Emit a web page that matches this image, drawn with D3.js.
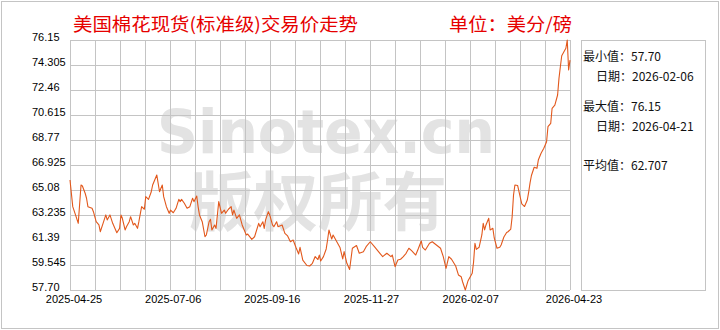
<!DOCTYPE html>
<html>
<head>
<meta charset="utf-8">
<script src="https://cdn.jsdelivr.net/npm/d3@7/dist/d3.min.js"></script>
<style>
  body { margin: 0; background: #fff; }
  svg { display: block; }
</style>
</head>
<body>
<svg id="mainsvg" width="720" height="330"></svg>
<script>
// cotton spot price series (US cents / lb)
var dates = [
  "2025-04-25","2025-04-27","2025-04-29","2025-05-01","2025-05-03","2025-05-04","2025-05-06","2025-05-07","2025-05-08","2025-05-11",
  "2025-05-12","2025-05-14","2025-05-16","2025-05-17","2025-05-19","2025-05-21","2025-05-22","2025-05-24","2025-05-26","2025-05-29",
  "2025-05-31","2025-06-01","2025-06-02","2025-06-04","2025-06-05","2025-06-07","2025-06-08","2025-06-10","2025-06-11","2025-06-13",
  "2025-06-14","2025-06-16","2025-06-18","2025-06-19","2025-06-21","2025-06-23","2025-06-24","2025-06-27","2025-06-29","2025-06-30",
  "2025-07-01","2025-07-02","2025-07-04","2025-07-06","2025-07-07","2025-07-09","2025-07-11","2025-07-13","2025-07-14","2025-07-15",
  "2025-07-17","2025-07-19","2025-07-21","2025-07-23","2025-07-24","2025-07-26","2025-07-27","2025-07-28","2025-07-30","2025-08-01",
  "2025-08-02","2025-08-04","2025-08-05","2025-08-06","2025-08-08","2025-08-09","2025-08-11","2025-08-13","2025-08-15","2025-08-16",
  "2025-08-18","2025-08-20","2025-08-21","2025-08-22","2025-08-24","2025-08-26","2025-08-28","2025-08-31","2025-09-01","2025-09-04",
  "2025-09-06","2025-09-09","2025-09-10","2025-09-12","2025-09-13","2025-09-14","2025-09-16","2025-09-17","2025-09-19","2025-09-20",
  "2025-09-22","2025-09-23","2025-09-26","2025-09-28","2025-09-30","2025-10-02","2025-10-04","2025-10-06","2025-10-08","2025-10-09",
  "2025-10-11","2025-10-14","2025-10-16","2025-10-18","2025-10-20","2025-10-22","2025-10-23","2025-10-24","2025-10-26","2025-10-28",
  "2025-10-29","2025-10-30","2025-11-01","2025-11-02","2025-11-04","2025-11-07","2025-11-09","2025-11-10","2025-11-12","2025-11-14",
  "2025-11-16","2025-11-19","2025-11-21","2025-11-24","2025-11-26","2025-11-29","2025-12-02","2025-12-06","2025-12-08","2025-12-11",
  "2025-12-14","2025-12-15","2025-12-17","2025-12-19","2025-12-21","2025-12-23","2025-12-25","2025-12-27","2025-12-29","2026-01-01",
  "2026-01-03","2026-01-05","2026-01-06","2026-01-08","2026-01-11","2026-01-13","2026-01-16","2026-01-19","2026-01-21","2026-01-23",
  "2026-01-25","2026-01-27","2026-01-30","2026-02-01","2026-02-03","2026-02-04","2026-02-06","2026-02-08","2026-02-11","2026-02-12",
  "2026-02-13","2026-02-14","2026-02-16","2026-02-18","2026-02-19","2026-02-20","2026-02-21","2026-02-23","2026-02-24","2026-02-26",
  "2026-02-27","2026-03-01","2026-03-03","2026-03-04","2026-03-06","2026-03-08","2026-03-09","2026-03-11","2026-03-12","2026-03-13",
  "2026-03-14","2026-03-16","2026-03-18","2026-03-19","2026-03-21","2026-03-23","2026-03-24","2026-03-25","2026-03-26","2026-03-28",
  "2026-03-30","2026-03-31","2026-04-02","2026-04-04","2026-04-06","2026-04-07","2026-04-09","2026-04-10","2026-04-12","2026-04-14",
  "2026-04-15","2026-04-16","2026-04-17","2026-04-20","2026-04-21","2026-04-22","2026-04-23"
];
var prices = [
  65.82,63.85,63.24,62.62,65.45,65.38,64.84,64.47,63.85,63.73,
  63.48,62.74,62.50,62.00,62.62,63.24,62.87,63.24,62.62,61.93,
  62.25,63.24,62.99,62.13,62.37,62.74,63.11,62.50,62.62,62.25,
  62.74,63.85,63.66,64.59,64.39,64.95,65.45,66.19,64.95,65.21,
  65.45,64.59,63.85,63.36,63.60,63.40,63.73,64.39,64.22,64.39,
  64.10,63.73,63.85,64.47,64.22,64.64,63.85,63.24,62.74,61.63,
  61.76,62.74,62.92,62.13,62.50,62.25,64.22,63.36,63.60,63.36,
  63.66,63.85,63.24,63.60,62.99,63.24,62.50,61.76,61.83,61.44,
  61.63,62.62,62.37,62.74,62.25,62.87,63.48,63.24,62.50,62.37,
  62.74,62.37,62.50,61.88,61.69,61.26,61.39,60.85,60.36,60.85,
  59.91,59.51,59.47,59.67,60.17,59.95,60.28,59.84,60.16,60.73,
  61.39,62.13,61.46,61.76,61.39,60.84,59.99,60.53,59.67,59.21,
  60.78,60.98,60.41,60.53,60.90,61.26,60.90,60.41,60.16,60.41,
  60.16,60.28,59.42,59.91,59.97,60.16,60.41,60.78,60.60,60.28,
  60.78,61.32,60.85,60.65,61.15,61.26,61.02,60.78,60.16,59.30,
  60.16,59.97,59.47,58.81,58.68,58.31,57.70,58.39,58.93,59.77,
  61.15,60.70,60.85,61.76,62.62,62.13,62.50,62.99,62.13,62.25,
  61.54,60.78,60.85,61.02,61.61,61.94,62.00,62.20,63.11,64.71,
  65.45,65.41,64.49,64.05,63.86,64.34,64.93,65.60,66.15,66.76,
  66.68,67.29,67.79,68.16,68.64,69.75,70.00,71.11,71.35,72.09,
  73.32,74.18,74.99,75.54,76.15,73.94,74.67
];
var yTicks = [57.70, 59.545, 61.39, 63.235, 65.08, 66.925, 68.77, 70.615, 72.46, 74.305, 76.15];
var yTickLabels = ["57.70","59.545","61.39","63.235","65.08","66.925","68.77","70.615","72.46","74.305","76.15"];
var xTickLabels = ["2025-04-25","2025-07-06","2025-09-16","2025-11-27","2026-02-07","2026-04-23"];
var statLabels = ["最小值：57.70","日期：2026-02-06","最大值：76.15","日期：2026-04-21","平均值：62.707"];

(function(){
    var parseDate = d3.timeParse("%Y-%m-%d");
    var data = dates.map(function(d, i){ return {date: parseDate(d), value: prices[i]}; });

    var svg = d3.select("#mainsvg");
    var plotLeft = 70, plotRight = 570, plotTop = 40, plotBottom = 290;
    var gridColor = "#c4c4c4";

    var x = d3.scaleTime()
        .domain([parseDate(xTickLabels[0]), parseDate(xTickLabels[xTickLabels.length - 1])])
        .range([plotLeft, plotRight]);
    var y = d3.scaleLinear()
        .domain([yTicks[0], yTicks[yTicks.length - 1]])
        .range([plotBottom, plotTop]);

    // outer frame
    svg.append("rect")
        .attr("x", 1.5).attr("y", 1.5)
        .attr("width", 717).attr("height", 327)
        .attr("fill", "none")
        .attr("stroke", gridColor);

    // watermark
    var wm = svg.append("g").attr("fill", "#e3e3e3");
    wm.append("text")
        .attr("x", 157).attr("y", 153)
        .attr("textLength", 338).attr("lengthAdjust", "spacingAndGlyphs")
        .style("font-family", "DejaVu Sans")
        .style("font-weight", "bold")
        .style("font-size", "60px")
        .text("Sinotex.cn");
    wm.append("text")
        .attr("x", 189).attr("y", 225)
        .attr("textLength", 258).attr("lengthAdjust", "spacingAndGlyphs")
        .style("font-family", "Noto Sans CJK SC")
        .style("font-weight", "bold")
        .style("font-size", "64px")
        .text("版权所有");

    // grid
    var grid = svg.append("g").attr("stroke", gridColor).attr("stroke-width", 1);
    var t0 = x.domain()[0].getTime(), t1 = x.domain()[1].getTime();
    d3.range(21).forEach(function(i){
        var xx = Math.round(x(new Date(t0 + (t1 - t0) * i / 20))) + 0.5;
        grid.append("line").attr("x1", xx).attr("x2", xx).attr("y1", plotTop).attr("y2", plotBottom);
    });
    yTicks.forEach(function(v){
        var yy = Math.round(y(v)) + 0.5;
        grid.append("line").attr("x1", plotLeft).attr("x2", plotRight).attr("y1", yy).attr("y2", yy);
    });

    // y labels
    svg.append("g").selectAll("text")
        .data(yTicks)
        .enter().append("text")
        .attr("x", 32)
        .attr("y", function(d){ return y(d) + 0.5; })
        .style("font-family", "Liberation Sans")
        .style("font-size", "11px")
        .attr("fill", "#000")
        .text(function(d, i){ return yTickLabels[i]; });

    // x labels
    svg.append("g").selectAll("text")
        .data(xTickLabels)
        .enter().append("text")
        .attr("x", function(d){ return x(parseDate(d)) + 4; })
        .attr("y", 303)
        .attr("text-anchor", "middle")
        .style("font-family", "Liberation Sans")
        .style("font-size", "11px")
        .attr("fill", "#000")
        .text(function(d){ return d; });

    // price line
    var line = d3.line()
        .x(function(d){ return x(d.date); })
        .y(function(d){ return y(d.value); });
    svg.append("path")
        .datum(data)
        .attr("d", line)
        .attr("fill", "none")
        .attr("stroke", "#e2581c")
        .attr("stroke-width", 1.1)
        .attr("stroke-linejoin", "round");

    // titles
    svg.append("text")
        .attr("x", 73).attr("y", 31)
        .attr("textLength", 285).attr("lengthAdjust", "spacingAndGlyphs")
        .attr("fill", "#e60000")
        .style("font-family", "Noto Sans CJK SC")
        .style("font-size", "18px")
        .text("美国棉花现货(标准级)交易价走势");
    svg.append("text")
        .attr("x", 449).attr("y", 31)
        .attr("textLength", 123).attr("lengthAdjust", "spacingAndGlyphs")
        .attr("fill", "#e60000")
        .style("font-family", "Noto Sans CJK SC")
        .style("font-size", "18px")
        .text("单位：美分/磅");

    // stats panel
    svg.append("rect")
        .attr("x", 581.5).attr("y", 40.5)
        .attr("width", 124).attr("height", 250)
        .attr("fill", "none")
        .attr("stroke", gridColor);
    var statX = [583, 596, 583, 596, 583];
    var statY = [61, 81, 111, 131, 170];
    svg.append("g").selectAll("text")
        .data(statLabels)
        .enter().append("text")
        .attr("x", function(d, i){ return statX[i]; })
        .attr("y", function(d, i){ return statY[i]; })
        .attr("fill", "#111")
        .style("font-family", "Noto Sans CJK SC")
        .style("font-size", "12px")
        .text(function(d){ return d; });
})();
</script>
</body>
</html>
